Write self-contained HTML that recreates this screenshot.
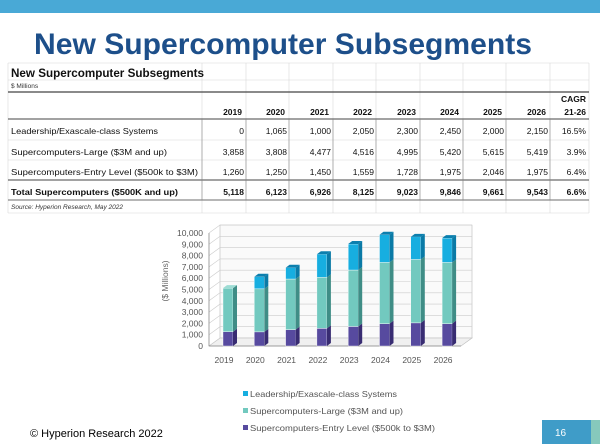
<!DOCTYPE html>
<html><head><meta charset="utf-8"><style>
body{margin:0;background:#fff}
svg{display:block;font-family:"Liberation Sans",sans-serif}
</style></head><body>
<svg id="s" width="600" height="444" viewBox="0 0 600 444" xmlns="http://www.w3.org/2000/svg">
<rect x="0" y="0" width="600" height="13" fill="#49a9d6"/>
<text x="34" y="54" font-size="30" font-weight="bold" fill="#1d4f8a" textLength="498" lengthAdjust="spacingAndGlyphs">New Supercomputer Subsegments</text>
<g id="table"></g>
<g id="chart"></g>
<text x="30" y="437" font-size="11" fill="#000">© Hyperion Research 2022</text>
<rect x="542" y="420" width="49" height="24" fill="#3f9cc8"/>
<rect x="591" y="420" width="9" height="24" fill="#86c9bc"/>
<text x="555" y="436" font-size="10" fill="#fff">16</text>
</svg>
<script>
const NS="http://www.w3.org/2000/svg";
const years=["2019","2020","2021","2022","2023","2024","2025","2026"];
const leadership=[0,1065,1000,2050,2300,2450,2000,2150];
const large=[3858,3808,4477,4516,4995,5420,5615,5419];
const entry=[1260,1250,1450,1559,1728,1975,2046,1975];
const totals=[5118,6123,6926,8125,9023,9846,9661,9543];
const cagr=["16.5%","3.9%","6.4%","6.6%"];
const yTicks=[0,1000,2000,3000,4000,5000,6000,7000,8000,9000,10000];
function mk(p,tag,a,txt){const e=document.createElementNS(NS,tag);for(const k in a)e.setAttribute(k,a[k]);if(txt!=null)e.textContent=txt;p.appendChild(e);return e;}
const fmt=v=>v.toLocaleString("en-US");
// table
const T=document.getElementById("table");
const colX=[8,202,246,289,333,376,420,463,506,550,589];
const rowY=[63,80,92,119,140,160,180,200,213];
const gl="#d8d8d8";
for(const x of colX){const l=mk(T,"line",{x1:x,y1:63,x2:x,y2:213,stroke:gl,"stroke-width":0.6});}
for(const y of rowY){const l=mk(T,"line",{x1:8,y1:y,x2:589,y2:y,stroke:gl,"stroke-width":0.6});}
[[92,1.2],[119,1],[180,1],[200,0.8]].forEach(([y,w])=>{const l=mk(T,"line",{x1:8,y1:y,x2:589,y2:y,stroke:"#444","stroke-width":w});});
for(let i=1;i<colX.length-1;i++){const l=mk(T,"line",{x1:colX[i],y1:119,x2:colX[i],y2:200,stroke:"#888","stroke-width":0.6});}
let t=mk(T,"text",{x:11,y:77,"font-size":11.5,"font-weight":"bold",fill:"#111",textLength:193,lengthAdjust:"spacingAndGlyphs"},"New Supercomputer Subsegments");

t=mk(T,"text",{x:11,y:88,"font-size":6.5,fill:"#333"},"$ Millions");

years.forEach((y,i)=>{const e=mk(T,"text",{x:colX[i+2]-4,y:115,"font-size":8.5,"font-weight":"bold","text-anchor":"end",fill:"#111"},y);});
t=mk(T,"text",{x:586,y:102,"font-size":8.5,"font-weight":"bold","text-anchor":"end",fill:"#111"},"CAGR");
t=mk(T,"text",{x:586,y:115,"font-size":8.5,"font-weight":"bold","text-anchor":"end",fill:"#111"},"21-26");
const rows=[["Leadership/Exascale-class Systems",leadership,cagr[0],false,134,147],["Supercomputers-Large ($3M and up)",large,cagr[1],false,155,156],["Supercomputers-Entry Level ($500k to $3M)",entry,cagr[2],false,175,187],["Total Supercomputers ($500K and up)",totals,cagr[3],true,195,167]];
rows.forEach(([lab,vals,c,b,y,tl])=>{
 const fw=b?"bold":"normal";
 let e=mk(T,"text",{x:11,y:y,"font-size":8.5,"font-weight":fw,fill:"#111",textLength:tl,lengthAdjust:"spacingAndGlyphs"},lab);
 vals.forEach((v,i)=>{const f=mk(T,"text",{x:colX[i+2]-2,y:y,"font-size":8.5,"font-weight":fw,"text-anchor":"end",fill:"#111"},fmt(v));});
 e=mk(T,"text",{x:586,y:y,"font-size":8.5,"font-weight":fw,"text-anchor":"end",fill:"#111"},c);
});
t=mk(T,"text",{x:11,y:209,"font-size":6.5,"font-style":"italic",fill:"#333"},"Source: Hyperion Research, May 2022");

// chart
const C=document.getElementById("chart");
const base=346, per=11.3/1000, dx=11, dy=-8;
const yS=v=>base-v*per;
const xS=i=>224+i*31.3;
let w=mk(C,"polygon",{points:`${209+dx},${yS(10000)+dy} 472,${yS(10000)+dy} 472,${base+dy} ${209+dx},${base+dy}`,fill:"#fafafa",stroke:"#bbb","stroke-width":0.6});

w=mk(C,"polygon",{points:`209,${base} ${209+dx},${base+dy} 472,${base+dy} 461,${base}`,fill:"#f0f0f0",stroke:"#bbb","stroke-width":0.6});

yTicks.forEach(v=>{
 const y=yS(v);
 let g=mk(C,"polyline",{points:`209,${y} ${209+dx},${y+dy} 472,${y+dy}`,fill:"none",stroke:"#ccc","stroke-width":0.6});
 
 let l=mk(C,"text",{x:203,y:y+3,"font-size":8.5,"text-anchor":"end",fill:"#555"},fmt(v));
 
});
let ax=mk(C,"line",{x1:209,y1:yS(10000),x2:209,y2:base,stroke:"#888","stroke-width":0.8});
ax=mk(C,"line",{x1:209,y1:base,x2:461,y2:base,stroke:"#888","stroke-width":0.8});
let yt=mk(C,"text",{transform:"translate(168,281) rotate(-90)","font-size":8.5,"text-anchor":"middle",fill:"#666"},"($ Millions)");

const series=[[entry,"#574a9f","#382c72","#6c60b5","entry"],[large,"#72c9bf","#3f8d86","#9ddcd4","large"],[leadership,"#17aee0","#0a7aa6","#5cc9ec","leadership"]];
const bw=10, sd=4, sdy=-3;
years.forEach((yr,i)=>{
 const x0=xS(i)-1;
 let cum=0;
 series.forEach(([arr,cf,cs,ct,nm])=>{
  const v=arr[i]; if(v<=0)return;
  const y1=yS(cum), y2=yS(cum+v); cum+=v;
  let r=mk(C,"rect",{x:x0,y:y2,width:bw,height:y1-y2,fill:cf,stroke:"#fff","stroke-width":0.4});
  
  r=mk(C,"polygon",{points:`${x0+bw},${y2} ${x0+bw+sd},${y2+sdy} ${x0+bw+sd},${y1+sdy} ${x0+bw},${y1}`,fill:cs});
  
 });
 const top=yS(cum), tc=series.filter(s=>s[0][i]>0).pop()[3];
 let tp=mk(C,"polygon",{points:`${x0},${top} ${x0+sd},${top+sdy} ${x0+bw+sd},${top+sdy} ${x0+bw},${top}`,fill:series[2][0][i]>0?"#0b7fae":tc});
 
 let l=mk(C,"text",{x:xS(i),y:363,"font-size":8.5,"text-anchor":"middle",fill:"#555"},yr);
 
});
const leg=[["Leadership/Exascale-class Systems","#17aee0",397,147],["Supercomputers-Large ($3M and up)","#72c9bf",414,153],["Supercomputers-Entry Level ($500k to $3M)","#574a9f",431,185]];
leg.forEach(([lab,c,y,tl])=>{
 let s=mk(C,"rect",{x:243,y:y-6,width:5,height:5,fill:c});
 let t=mk(C,"text",{x:250,y:y,"font-size":8.5,fill:"#555",textLength:tl,lengthAdjust:"spacingAndGlyphs"},lab);
});
</script>
</body></html>
